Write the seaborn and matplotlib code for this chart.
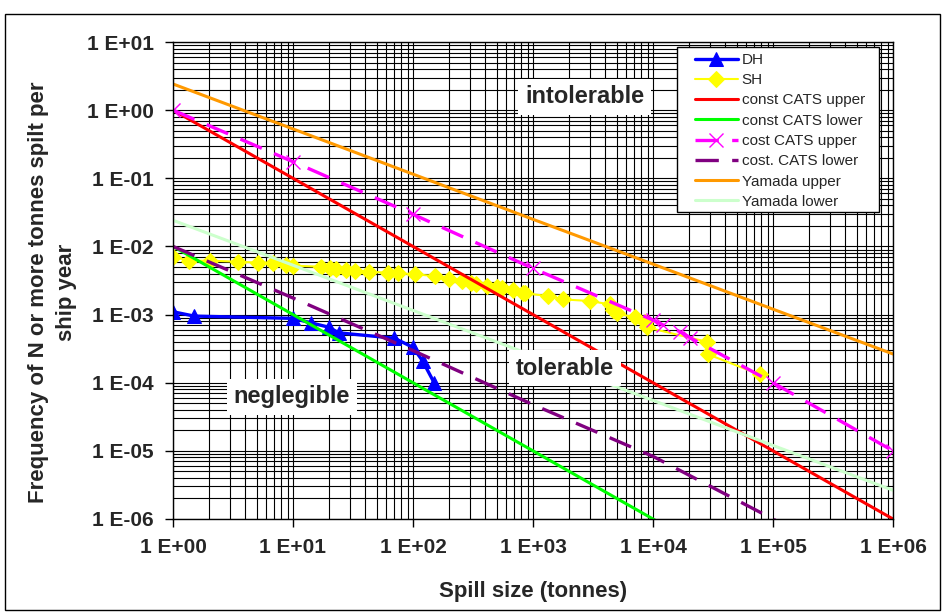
import matplotlib
matplotlib.use("Agg")
import matplotlib.pyplot as plt
import seaborn as sns
import numpy as np
from matplotlib.patches import Rectangle
from matplotlib.ticker import FixedLocator, FixedFormatter, LogLocator, NullFormatter

# ---- data ----
dh_x = [1, 1.5, 10, 14, 20, 24, 70, 100, 120, 150]
dh_y = [1.1e-3, 9.5e-4, 8.8e-4, 7.6e-4, 6.5e-4, 5.4e-4, 4.5e-4, 3.3e-4, 2.1e-4, 1.0e-4]

sh_x = [1, 1.37, 2.03, 3.46, 5.1, 6.8, 8.7, 10, 17, 20.3, 23, 27.5, 33, 43, 62, 75,
        104, 152, 201, 258, 304, 335, 411, 504, 548, 677, 821, 858, 1340, 1790,
        2990, 4390, 4670, 4980, 7080, 8580, 8860, 28000, 28900, 77200]
sh_y = [7.06e-3, 6.17e-3, 6.17e-3, 5.97e-3, 5.77e-3, 5.77e-3, 5.33e-3, 5.21e-3,
        5.04e-3, 4.87e-3, 4.71e-3, 4.51e-3, 4.40e-3, 4.26e-3, 4.11e-3, 4.03e-3,
        3.90e-3, 3.68e-3, 3.33e-3, 3.11e-3, 2.94e-3, 2.78e-3, 2.65e-3, 2.51e-3,
        2.43e-3, 2.29e-3, 2.09e-3, 2.05e-3, 1.87e-3, 1.67e-3, 1.58e-3, 1.41e-3,
        1.17e-3, 1.04e-3, 9.1e-4, 7.9e-4, 6.5e-4, 4.0e-4, 2.6e-4, 1.32e-4]

decades = [1, 10, 100, 1e3, 1e4, 1e5, 1e6]
cats_upper = [1, 1e-1, 1e-2, 1e-3, 1e-4, 1e-5, 1e-6]
cats_lower = [1e-2, 1e-3, 1e-4, 1e-5, 1e-6, 1e-7, 1e-8]

cost_upper_x = [1, 10, 100, 1e3, 1e4, 1.22e4, 1.68e4, 2.03e4, 1e5, 1e6]
cost_upper_y = [1, 0.175, 0.0296, 4.77e-3, 8.3e-4, 7.0e-4, 5.6e-4, 4.6e-4, 1e-4, 1e-5]
cost_lower_y = [1e-2, 1.75e-3, 2.96e-4, 4.77e-5, 8.3e-6, 1e-6, 1e-7]

yamada_upper = [2.42, 0.53, 0.115, 0.025, 5.5e-3, 1.2e-3, 2.64e-4]
yamada_lower = [2.42e-2, 5.3e-3, 1.15e-3, 2.5e-4, 5.5e-5, 1.2e-5, 2.64e-6]

y_exps = list(range(1, -7, -1))
x_exps = list(range(0, 7))

# ---- style ----
sns.set_theme(style="white")
plt.rcParams["font.family"] = ["Liberation Sans", "DejaVu Sans"]

W, H = 945, 615
fig = plt.figure(figsize=(W / 100, H / 100), dpi=100)
ax = fig.add_axes([173 / W, 1 - 519 / H, 720 / W, 477 / H])

sns.lineplot(x=dh_x, y=dh_y, ax=ax, color="#0000FF", lw=2.4, marker="^",
             markersize=10, markeredgecolor="#0000FF", label="DH",
             estimator=None, sort=False)
sns.lineplot(x=sh_x, y=sh_y, ax=ax, color="#FFFF00", lw=1.5, marker="D",
             markersize=8, markeredgecolor="#FFFF00", label="SH",
             estimator=None, sort=False)
sns.lineplot(x=decades, y=cats_upper, ax=ax, color="#FF0000", lw=2.2,
             label="const CATS upper", estimator=None, sort=False)
sns.lineplot(x=decades, y=cats_lower, ax=ax, color="#00FF00", lw=2.2,
             label="const CATS lower", estimator=None, sort=False)
sns.lineplot(x=cost_upper_x, y=cost_upper_y, ax=ax, color="#FF00FF", lw=2.4,
             linestyle=(0, (7, 4)), marker="x", markersize=10,
             markeredgewidth=1.0, markeredgecolor="#FF00FF",
             label="cost CATS upper", estimator=None, sort=False)
sns.lineplot(x=decades, y=cost_lower_y, ax=ax, color="#800080", lw=2.4,
             linestyle=(0, (7, 4)), label="cost. CATS lower",
             estimator=None, sort=False)
sns.lineplot(x=decades, y=yamada_upper, ax=ax, color="#FF9900", lw=2.2,
             label="Yamada upper", estimator=None, sort=False)
sns.lineplot(x=decades, y=yamada_lower, ax=ax, color="#CCFFCC", lw=2.2,
             label="Yamada lower", estimator=None, sort=False)

ax.set_xscale("log")
ax.set_yscale("log")
ax.set_xlim(1, 1e6)
ax.set_ylim(1e-6, 10)

# grid (major + minor, black and thin like the spreadsheet original)
ax.xaxis.set_major_locator(FixedLocator([10.0 ** e for e in x_exps]))
ax.yaxis.set_major_locator(FixedLocator([10.0 ** e for e in y_exps]))
ax.xaxis.set_major_formatter(FixedFormatter([f"1 E{e:+03d}" for e in x_exps]))
ax.yaxis.set_major_formatter(FixedFormatter([f"1 E{e:+03d}" for e in y_exps]))
ax.xaxis.set_minor_locator(LogLocator(base=10, subs=np.arange(2, 10), numticks=20))
ax.yaxis.set_minor_locator(LogLocator(base=10, subs=np.arange(2, 10), numticks=20))
ax.xaxis.set_minor_formatter(NullFormatter())
ax.yaxis.set_minor_formatter(NullFormatter())
ax.grid(True, which="both", color="black", lw=0.8)
ax.set_axisbelow(True)

ax.tick_params(which="major", direction="out", length=6, width=1, color="black",
               labelsize=15, pad=8, bottom=True, left=True)
ax.tick_params(which="minor", length=0)
for lab in ax.get_xticklabels() + ax.get_yticklabels():
    lab.set_fontweight("bold")
for sp in ax.spines.values():
    sp.set_color("black")
    sp.set_linewidth(1)

ax.set_xlabel("Spill size (tonnes)", fontsize=16, fontweight="bold", labelpad=17)
ax.set_ylabel("Frequency of N or more tonnes spilt per\nship year", fontsize=16,
              fontweight="bold", labelpad=7, linespacing=1.45)
ax.yaxis.label.set_y(0.475)

box = dict(facecolor="white", edgecolor="none", pad=5)
ax.text(2700, 1.56, "intolerable", fontsize=17, fontweight="bold",
        ha="center", va="center", bbox=box)
ax.text(1850, 1.64e-4, "tolerable", fontsize=17, fontweight="bold",
        ha="center", va="center", bbox=box)
ax.text(9.8, 6.2e-5, "neglegible", fontsize=17, fontweight="bold",
        ha="center", va="center", bbox=box)

# legend entries without their own frame; the box is drawn separately
leg = ax.legend(loc="upper left", bbox_to_anchor=(0.725, 0.977),
                borderaxespad=0, borderpad=0, fontsize=11, frameon=False,
                handlelength=2.8, labelspacing=0.41, handletextpad=0.25)
leg.set_zorder(6)
ax.add_patch(Rectangle((677 / W, 1 - 212 / H), 202 / W, 165 / H,
                       transform=fig.transFigure, facecolor="white",
                       edgecolor="black", lw=1, zorder=5.5, clip_on=False))

fig.patches.append(Rectangle((5 / W, 1 - 610 / H), 935 / W, 596 / H,
                             transform=fig.transFigure, fill=False,
                             edgecolor="black", lw=1))

fig.savefig("out.png", dpi=100, facecolor="white")
